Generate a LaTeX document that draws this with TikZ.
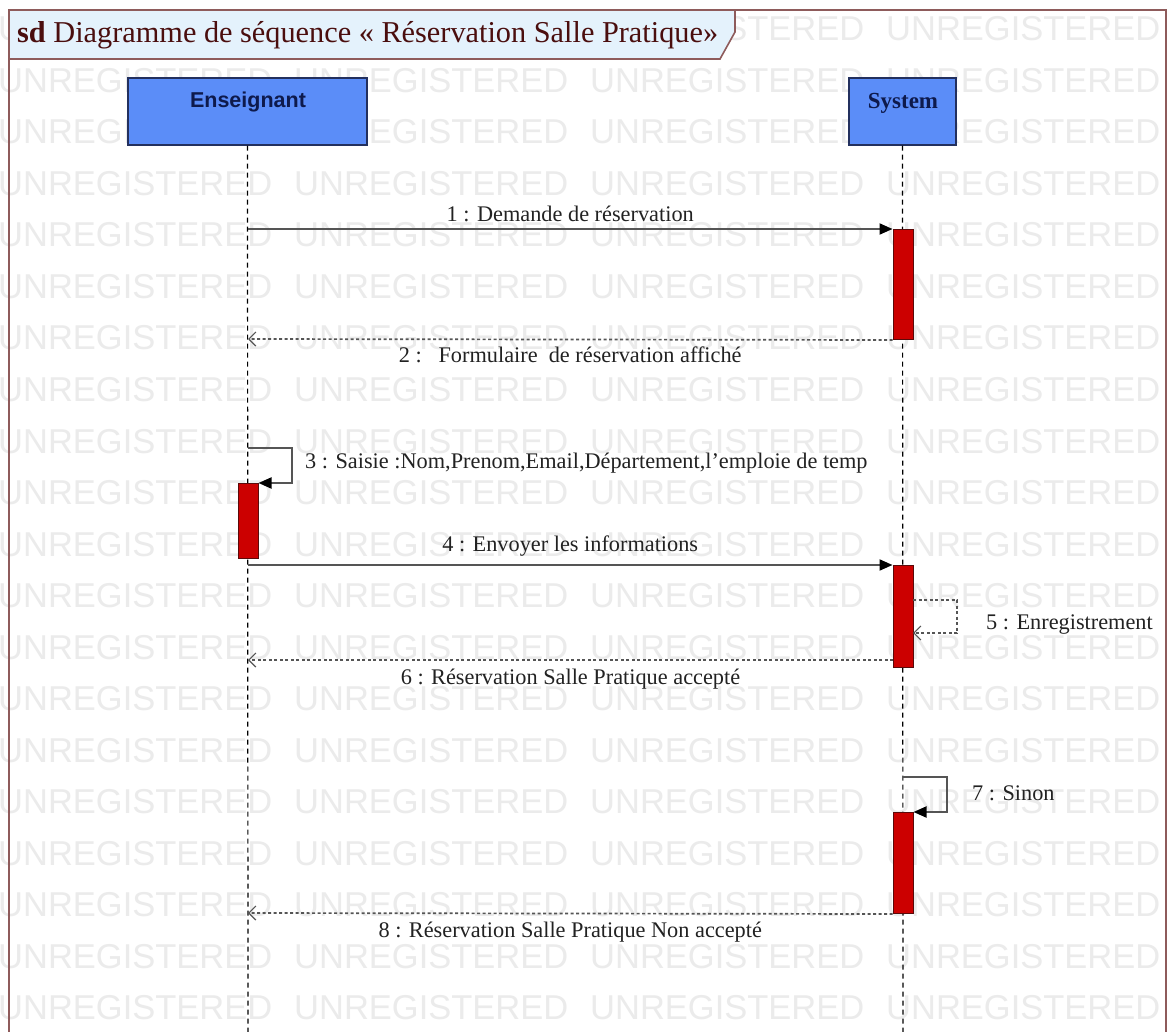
\documentclass[tikz,border=0pt]{standalone}
\usepackage{fontspec}
\setmainfont{Liberation Serif}
\newfontfamily\wmfont{Liberation Sans}
\newfontfamily\headsans{Liberation Sans}
\usetikzlibrary{arrows.meta}
\definecolor{framec}{HTML}{8E5B5B}
\definecolor{tabfill}{HTML}{E4F2FC}
\definecolor{titlec}{HTML}{4A0E0E}
\definecolor{headfill}{HTML}{5B8DF8}
\definecolor{headdraw}{HTML}{23305E}
\definecolor{headtext}{HTML}{0E1A4C}
\definecolor{actfill}{HTML}{CC0000}
\definecolor{actdraw}{HTML}{5A0A0A}
\definecolor{msgc}{HTML}{555555}
\definecolor{wmc}{HTML}{EBEBEB}
\definecolor{labc}{HTML}{222222}
\begin{document}
\begin{tikzpicture}[x=1pt,y=-1pt,
  wm/.style={anchor=base west, inner sep=0pt, text=wmc, font=\wmfont\fontsize{34.5}{40}\selectfont},
  headbox/.style={draw=headdraw, line width=1.3pt, fill=headfill, inner sep=0pt},
  headlabel/.style={text=headtext, inner sep=0pt},
  lifeline/.style={draw=black, line width=1.2pt, dash pattern=on 5pt off 4pt},
  actbox/.style={draw=actdraw, line width=1pt, fill=actfill, anchor=north, minimum width=20pt, inner sep=0pt},
  syncmsg/.style={draw=msgc, line width=2pt, -{Triangle[length=13pt,width=11pt,fill=black,color=black]}},
  replymsg/.style={draw=msgc, line width=1.7pt, dash pattern=on 3pt off 2.5pt, -{Straight Barb[length=7pt,width=14pt,line width=1.2pt]}},
  msglabel/.style={text=labc, inner sep=0pt, font=\fontsize{22.3}{26}\selectfont}
]
\useasboundingbox (0,0) rectangle (1173,1032);
\fill[white] (0,0) rectangle (1173,1032);
% watermark
\foreach \k in {0,...,20}{
  \foreach \i in {0,...,3}{
    \node[wm] at ({-2+296*\i},{41+51.5*\k}) {UNREGISTERED};
  }
}
% frame
\draw[framec, line width=1.6pt] (9,1040) -- (9,10) -- (1166,10) -- (1166,1040);
\draw[framec, line width=1.6pt, fill=tabfill] (9,10) -- (735,10) -- (735,32) -- (720,59) -- (9,59) -- cycle;
\node[anchor=base west, inner sep=0pt, text=titlec, font=\fontsize{30.3}{34}\selectfont] (title) at (17,43)
  {\textbf{sd} Diagramme de séquence « Réservation Salle Pratique»};
% lifeline heads
\node[headbox, minimum width=239pt, minimum height=67pt] (ens) at (247.5,111.5) {};
\node[headlabel, font=\headsans\bfseries\fontsize{21.5}{24}\selectfont] (ensT) at (248,102) {Enseignant};
\node[headbox, minimum width=107pt, minimum height=67pt] (sys) at (902.5,111.5) {};
\node[headlabel, font=\bfseries\fontsize{23}{26}\selectfont] (sysT) at (903,103) {System};
% lifelines
\coordinate (ensEnd) at (248,1040);
\coordinate (sysEnd) at (903,1040);
\draw[lifeline] (ens.south) -- (ensEnd);
\draw[lifeline] (sys.south) -- (sysEnd);
% activations
\node[actbox, minimum height=110pt] (a1) at (903,229) {};
\node[actbox, minimum height=75pt] (aE) at (248,483) {};
\node[actbox, minimum height=102pt] (a2) at (903,565) {};
\node[actbox, minimum height=101pt] (a3) at (903,812) {};
% message anchors
\coordinate (m1s) at (248,229);
\coordinate (m2e) at (248,339);
\coordinate (m3s) at (248,448);
\coordinate (m4s) at (248,565);
\coordinate (m5s) at (913,600);
\coordinate (m5e) at (913,633);
\coordinate (m6s) at (893,660);
\coordinate (m6e) at (248,660);
\coordinate (m7s) at (903,777);
\coordinate (m8e) at (248,913);
% messages
\draw[syncmsg] (m1s) -- (a1.north west) node[msglabel, midway, above=6pt] (l1) {1 : Demande de réservation};
\draw[replymsg] (a1.south west) -- (m2e) node[msglabel, midway, below=6pt] (l2) {2 :\ \ \ Formulaire\ \ de réservation affiché};
\draw[syncmsg] (m3s) -- ++(44,0) |- (aE.north east);
\node[msglabel, anchor=west] (l3) at (305,463) {3 : Saisie :Nom,Prenom,Email,Département,l'emploie de temp};
\draw[syncmsg] (m4s) -- (a2.north west) node[msglabel, midway, above=8pt] (l4) {4 : Envoyer les informations};
\draw[replymsg] (m5s) -- ++(44,0) |- (m5e);
\node[msglabel, anchor=west] (l5) at (986,625) {5 : Enregistrement};
\draw[replymsg] (m6s) -- (m6e) node[msglabel, midway, below=8pt] (l6) {6 : Réservation Salle Pratique accepté};
\draw[syncmsg] (m7s) -- ++(44,0) |- (a3.north east);
\node[msglabel, anchor=west] (l7) at (972,793) {7 : Sinon};
\draw[replymsg] (a3.south west) -- (m8e) node[msglabel, midway, below=8pt] (l8) {8 : Réservation Salle Pratique Non accepté};
\end{tikzpicture}
\end{document}
